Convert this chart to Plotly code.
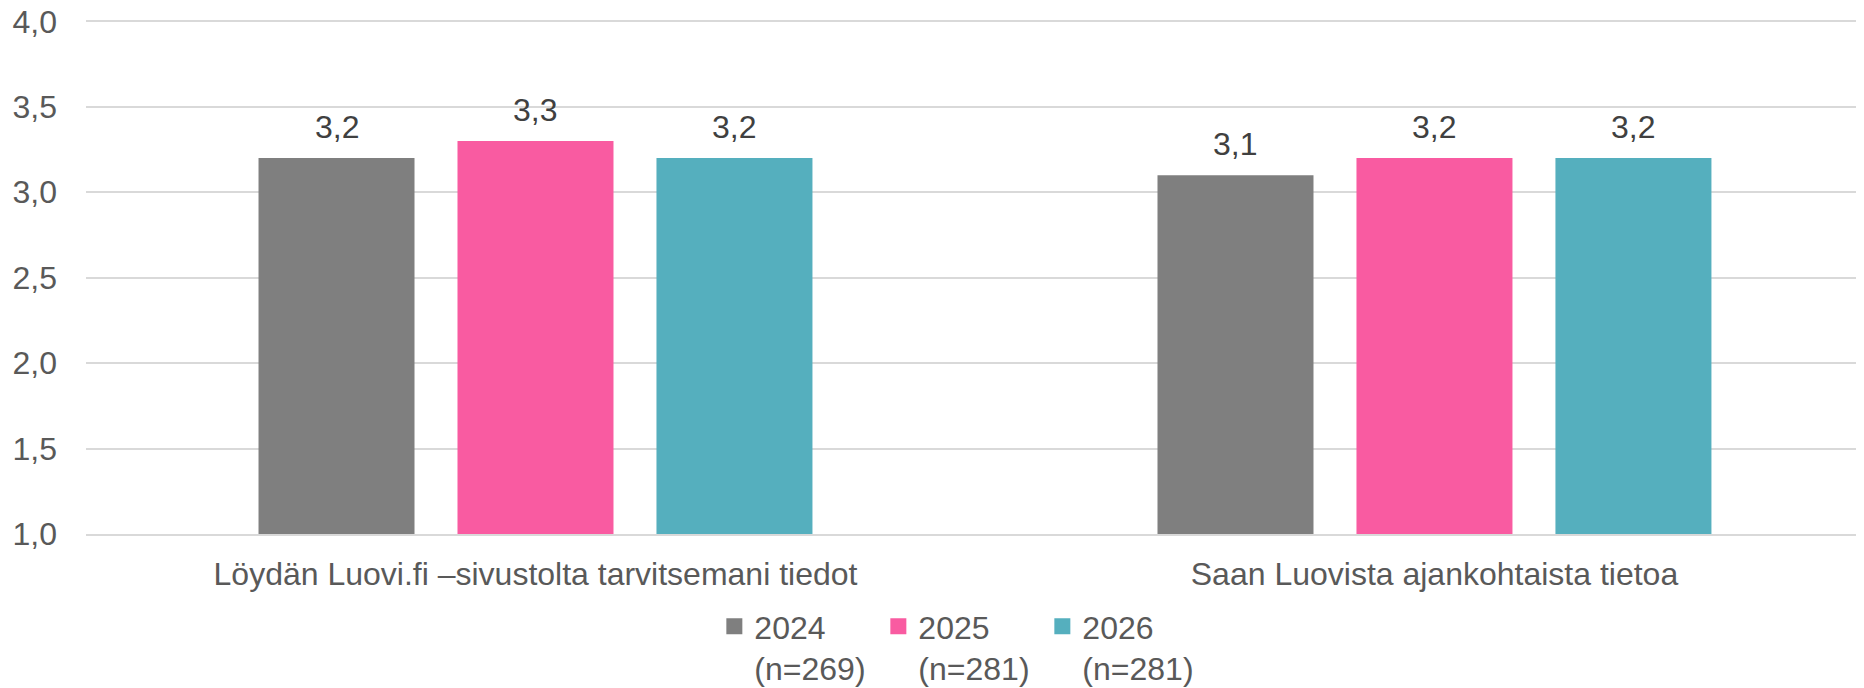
import plotly.graph_objects as go

categories = ["Löydän Luovi.fi –sivustolta tarvitsemani tiedot", "Saan Luovista ajankohtaista tietoa"]
series_names = ["2024<br>(n=269)", "2025<br>(n=281)", "2026<br>(n=281)"]
values_2024 = [3.2, 3.1]
values_2025 = [3.3, 3.2]
values_2026 = [3.2, 3.2]
colors = ["#7F7F7F", "#F95BA1", "#55AFBE"]
y_ticks = [1.0, 1.5, 2.0, 2.5, 3.0, 3.5, 4.0]

series_values = [values_2024, values_2025, values_2026]

BARGAP = 0.336
GROUPGAP = 0.216
FONT = "Liberation Sans, Arial, sans-serif"
FS = 32

fig = go.Figure()
for name, vals, col in zip(series_names, series_values, colors):
    fig.add_trace(go.Bar(
        x=list(range(len(categories))), y=vals, name=name,
        marker=dict(color=col, line=dict(width=0)), showlegend=False,
    ))
# legend entries (square swatches)
for name, col in zip(series_names, colors):
    fig.add_trace(go.Scatter(
        x=[None], y=[None], mode="markers", name=name,
        marker=dict(symbol="square", size=16, color=col, line=dict(width=0)),
    ))

# data labels placed above each bar
slot = (1 - BARGAP) / len(series_values)
for i, vals in enumerate(series_values):
    off = (i - (len(series_values) - 1) / 2) * slot
    for j, v in enumerate(vals):
        fig.add_annotation(
            x=j + off, y=v, xref="x", yref="y",
            text=f"{v:.1f}".replace(".", ","),
            showarrow=False, yanchor="bottom", yshift=11,
            font=dict(family=FONT, size=FS, color="#404040"),
        )

fig.update_layout(
    width=1856, height=680,
    margin=dict(l=78, r=0, t=10, b=154, autoexpand=False),
    paper_bgcolor="white", plot_bgcolor="white",
    barmode="group", bargap=BARGAP, bargroupgap=GROUPGAP,
    separators=", ",
    font=dict(family=FONT, color="#595959"),
    legend=dict(
        orientation="h", x=0.3534, xanchor="left", y=-162 / 516, yanchor="bottom",
        font=dict(family=FONT, size=FS, color="#595959"),
        valign="top", traceorder="normal", entrywidth=119, entrywidthmode="pixels",
        itemclick=False, borderwidth=0,
    ),
    showlegend=True,
)
fig.update_yaxes(
    range=[1.0, 4.02], tickvals=y_ticks, tickformat=".1f",
    showgrid=True, gridcolor="#D9D9D9", gridwidth=2,
    zeroline=False, showline=False, automargin=False,
    tickfont=dict(family=FONT, size=FS, color="#595959"),
    ticklabelstandoff=28, ticklabeloverflow="allow",
)
fig.update_xaxes(
    tickmode="array", tickvals=list(range(len(categories))), ticktext=categories,
    range=[-0.5, 1.4778], automargin=False,
    showline=True, linecolor="#D9D9D9", linewidth=2,
    showgrid=False, zeroline=False,
    tickfont=dict(family=FONT, size=FS, color="#595959"),
    ticklabelstandoff=11,
)

fig.write_html("out.html")
